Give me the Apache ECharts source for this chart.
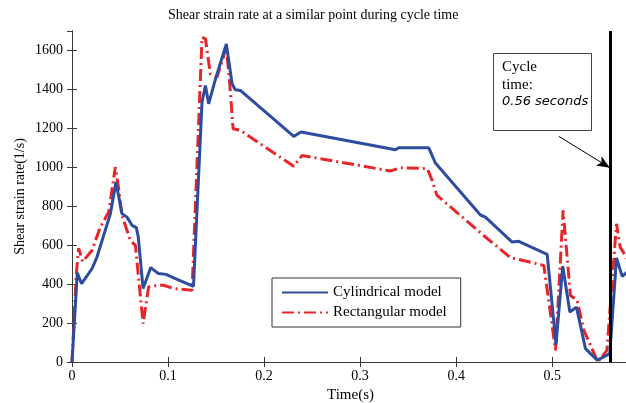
<!DOCTYPE html>
<html>
<head>
<meta charset="utf-8">
<script src="https://cdn.jsdelivr.net/npm/echarts@6/dist/echarts.min.js"></script>
<style>html,body{margin:0;padding:0;background:#fff}#c{width:626px;height:403px}</style>
</head>
<body>
<div id="c"></div>
<script>
var titleText = 'Shear strain rate at a similar point during cycle time';
var xName = 'Time(s)';
var yName = 'Shear strain rate(1/s)';
var seriesNames = ['Cylindrical model', 'Rectangular model'];
var cycleTime = 0.56;
var noteLines = ['Cycle', 'time:', '0.56 seconds'];

var cylTime = [0, 0.0055, 0.0100, 0.0208, 0.026, 0.040, 0.0458, 0.052, 0.0573, 0.0625, 0.067, 0.069, 0.074, 0.082, 0.090, 0.098, 0.1076, 0.1265, 0.1354, 0.1389, 0.1423, 0.149, 0.1607, 0.1667, 0.170, 0.1753, 0.2309, 0.2385, 0.3368, 0.3402, 0.3715, 0.3784, 0.4253, 0.4305, 0.4583, 0.4652, 0.4948, 0.5040, 0.511, 0.5184, 0.5253, 0.5347, 0.5469, 0.560, 0.567, 0.5729, 0.578];
var cylRate = [0, 458, 402, 479, 539, 762, 924, 762, 744, 702, 690, 642, 377, 485, 454, 450, 428, 389, 1335, 1420, 1326, 1446, 1634, 1429, 1398, 1395, 1159, 1181, 1090, 1100, 1100, 1022, 755, 744, 616, 620, 553, 90, 493, 257, 282, 69, 9, 43, 535, 440, 462];

var rectTime = [0, 0.0045, 0.0069, 0.011, 0.0208, 0.0295, 0.0382, 0.0451, 0.0486, 0.052, 0.0607, 0.066, 0.0740, 0.0798, 0.0885, 0.0955, 0.1059, 0.125, 0.1354, 0.139, 0.144, 0.151, 0.1607, 0.165, 0.1677, 0.1753, 0.2309, 0.2396, 0.3316, 0.342, 0.370, 0.375, 0.380, 0.4305, 0.4566, 0.4618, 0.4913, 0.5035, 0.5114, 0.519, 0.526, 0.533, 0.5475, 0.557, 0.567, 0.5708, 0.578];
var rectRate = [0, 454, 585, 515, 573, 693, 770, 1001, 890, 753, 625, 599, 197, 385, 394, 394, 377, 368, 1668, 1660, 1480, 1463, 1617, 1386, 1198, 1190, 1005, 1061, 981, 998, 993, 933, 856, 642, 536, 531, 496, 60, 779, 342, 317, 163, 0, 60, 710, 590, 531];

var arrowFrom = [0.5069, 1159];
var arrowTo = [0.56, 998];

function zip(a, b) { return a.map(function (v, i) { return [v, b[i]]; }); }

var serif = 'Liberation Serif';
var BLUE = '#2D4C9E';
var RED = '#E8262A';
var AXC = '#3a3a3a';

var chart = echarts.init(document.getElementById('c'), null, { renderer: 'canvas' });

var baseX = { type: 'value', min: 0, max: 0.58, interval: 0.1 };
var baseY = { type: 'value', min: 0, max: 1700, interval: 200 };

chart.setOption({
  animation: false,
  backgroundColor: '#fff',
  title: {
    text: titleText, left: 163, top: 3,
    textStyle: { fontFamily: serif, fontSize: 14, fontWeight: 'normal', color: '#000' }
  },
  grid: { left: 72, top: 31, width: 557, height: 331, containLabel: false, outerBoundsMode: 'none' },
  legend: {
    data: seriesNames,
    left: 272, top: 278, orient: 'vertical',
    padding: [7, 14, 7, 9],
    itemWidth: 46, itemHeight: 14, itemGap: 5, itemTextGap: 5,
    itemStyle: { opacity: 0 },
    backgroundColor: '#fff', borderColor: '#333', borderWidth: 1, borderRadius: 0,
    textStyle: { fontFamily: serif, fontSize: 15, color: '#000', lineHeight: 15 }
  },
  xAxis: [
    Object.assign({}, baseX, {
      position: 'bottom',
      name: xName, nameLocation: 'middle', nameGap: 24,
      nameTextStyle: { fontFamily: serif, fontSize: 15, color: '#000' },
      axisLine: { show: true, lineStyle: { color: AXC, width: 1 } },
      axisTick: { show: true, inside: true, length: 5, lineStyle: { color: AXC } },
      axisLabel: { fontFamily: serif, fontSize: 14, color: '#000', margin: 7, showMaxLabel: false },
      splitLine: { show: false }
    }),
    Object.assign({}, baseX, {
      position: 'top',
      axisLine: { show: true, lineStyle: { color: AXC, width: 1 } },
      axisTick: { show: true, inside: true, length: 5, lineStyle: { color: AXC } },
      axisLabel: { show: false }, splitLine: { show: false }
    })
  ],
  yAxis: [
    Object.assign({}, baseY, {
      position: 'left',
      name: yName, nameLocation: 'middle', nameGap: 45, nameMoveOverlap: false,
      nameTextStyle: { fontFamily: serif, fontSize: 14, color: '#000' },
      axisLine: { show: true, lineStyle: { color: AXC, width: 1 } },
      axisTick: { show: true, inside: true, length: 5, lineStyle: { color: AXC } },
      axisLabel: { fontFamily: serif, fontSize: 14, color: '#000', margin: 9, showMaxLabel: false,
        formatter: function (v) { return String(v); } },
      splitLine: { show: false }
    }),
    Object.assign({}, baseY, {
      position: 'right',
      axisLine: { show: true, lineStyle: { color: AXC, width: 1 } },
      axisTick: { show: true, inside: true, length: 5, lineStyle: { color: AXC } },
      axisLabel: { show: false }, splitLine: { show: false }
    })
  ],
  series: [
    {
      name: seriesNames[1], type: 'line', data: zip(rectTime, rectRate),
      symbol: 'none', showSymbol: false, z: 3,
      lineStyle: { color: RED, width: 3, type: [12, 4, 2, 4] },
      itemStyle: { color: RED }
    },
    {
      name: seriesNames[0], type: 'line', data: zip(cylTime, cylRate),
      symbol: 'none', showSymbol: false, z: 4,
      lineStyle: { color: BLUE, width: 3 },
      itemStyle: { color: BLUE },
      markLine: {
        silent: true, animation: false,
        label: { show: false },
        data: [
          [{ coord: [cycleTime, 0], symbol: 'none' }, { coord: [cycleTime, 1700], symbol: 'none' }],
          [{ coord: arrowFrom, symbol: 'none', lineStyle: { width: 1, color: '#000', type: 'solid' } },
           { coord: arrowTo, symbol: 'arrow', symbolSize: [8, 13] }]
        ],
        lineStyle: { color: '#000', width: 3, type: 'solid' }
      }
    }
  ],
  graphic: [
    { type: 'rect', left: 493, top: 53, shape: { width: 98, height: 77 },
      style: { fill: '#fff', stroke: '#444', lineWidth: 1 }, z: 10 },
    { type: 'text', left: 502, top: 60, z: 11,
      style: { text: noteLines[0], font: '15px "Liberation Serif"', fill: '#000' } },
    { type: 'text', left: 502, top: 78, z: 11,
      style: { text: noteLines[1], font: '15px "Liberation Serif"', fill: '#000' } },
    { type: 'text', left: 502, top: 95, z: 11,
      style: { text: noteLines[2], font: 'italic 13px "DejaVu Sans"', fill: '#000' } }
  ]
});
</script>
</body>
</html>
